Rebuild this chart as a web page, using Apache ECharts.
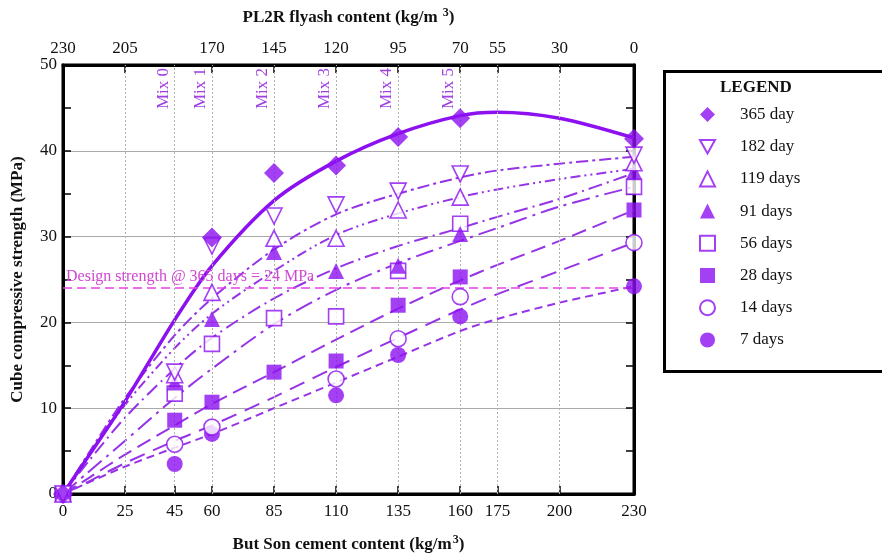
<!DOCTYPE html>
<html>
<head>
<meta charset="utf-8">
<script src="https://cdn.jsdelivr.net/npm/echarts@6/dist/echarts.min.js"></script>
<style>
  html, body { margin: 0; padding: 0; background: #fff; }
  #main { width: 882px; height: 559px; }
</style>
</head>
<body>
<div id="main"></div>
<script>
// measured points (cement content vs strength)
var xMix = [0, 45, 60, 85, 110, 135, 160, 230];
var d365 = [0, null, 29.9, 37.4, 38.3, 41.6, 43.8, 41.4];
var d182 = [0, 14.2, 28.9, 32.4, 33.7, 35.3, 37.3, 39.5];
var d119 = [0, 13.9, 23.5, 29.8, 29.8, 33.1, 34.6, 38.6];
var d91 = [0, 13.0, 20.4, 28.2, 26.0, 26.6, 30.3, 37.6];
var d56 = [0, 11.7, 17.5, 20.5, 20.7, 26.0, 31.5, 35.8];
var d28 = [0, 8.6, 10.7, 14.2, 15.5, 22.0, 25.3, 33.1];
var d14 = [0, 5.8, 7.8, null, 13.4, 18.1, 23.0, 29.3];
var d7 = [0, 3.5, 7.0, null, 11.5, 16.2, 20.7, 24.2];

// fitted curves
var xFit = [0, 10, 25, 45, 60, 85, 110, 135, 160, 175, 200, 230];
var fit365 = [0, 4.3, 10.8, 20.3, 26.6, 34.2, 38.8, 42.0, 44.1, 44.5, 43.8, 41.5];
var fit182 = [0, 4.6, 11.2, 18.5, 22.8, 28.5, 32.6, 35.0, 36.9, 37.7, 38.5, 39.3];
var fit119 = [0, 4.4, 10.4, 17.0, 21.0, 26.0, 30.2, 32.7, 34.6, 35.5, 36.7, 37.9];
var fit91 = [0, 3.7, 8.9, 14.6, 18.2, 22.8, 26.3, 28.9, 31.0, 32.3, 34.4, 37.4];
var fit56 = [0, 2.5, 6.2, 11.2, 14.6, 19.8, 23.8, 26.9, 29.5, 31.0, 33.5, 35.8];
var fit28 = [0, 1.8, 4.6, 8.0, 10.5, 14.2, 18.0, 21.6, 24.9, 26.7, 29.5, 33.1];
var fit14 = [0, 1.4, 3.6, 6.2, 8.0, 11.3, 14.8, 18.2, 21.5, 23.3, 26.0, 29.3];
var fit7 = [0, 1.3, 3.2, 5.4, 7.0, 10.0, 13.0, 16.0, 19.0, 20.4, 22.3, 24.2];

var bottomTicks = [0, 25, 45, 60, 85, 110, 135, 160, 175, 200, 230];
var topTicks = [230, 205, 170, 145, 120, 95, 70, 55, 30, 0];
var gridX = [25, 45, 60, 85, 110, 135, 160, 175, 200];
var mixX = [45, 60, 85, 110, 135, 160];
var mixNames = ['Mix 0', 'Mix 1', 'Mix 2', 'Mix 3', 'Mix 4', 'Mix 5'];
var designStrength = 24;

var PURPLE = '#8c10f0';
var LINEP = '#9633e6';
var FONT = 'Liberation Serif';

function pairs(xs, ys){
	var out = [];
	for(var i=0;i<xs.length;i++){
		if(ys[i] !== null) out.push([xs[i], ys[i]]);
	}
	return out;
}

function fitSeries(name, ys, type, width){
	return {
		name: name, type: 'line', data: pairs(xFit, ys), smooth: 0.3,
		symbol: 'none', silent: true, z: 2,
		lineStyle: { color: name === 'f365' ? PURPLE : LINEP, width: width, type: type }
	};
}

function pointSeries(name, ys, symbol, size, hollow){
	return {
		name: name, type: 'scatter', data: pairs(xMix, ys), symbol: symbol, symbolSize: size, z: 5,
		itemStyle: hollow ? { color: '#fff', borderColor: PURPLE, borderWidth: 1.6 } : { color: PURPLE }
	};
}

var INVTRI = 'path://M0,0L10,0L5,9Z';

var gridLines = [];
for(var i=0;i<gridX.length;i++){
	var k = mixX.indexOf(gridX[i]);
	gridLines.push({
		xAxis: gridX[i],
		lineStyle: { color: '#b0b0b0', type: [2, 2], width: 1 },
		label: k >= 0 ? {
			show: true, position: 'insideEndTop', formatter: mixNames[k], distance: 3,
			color: '#a040e0', fontFamily: FONT, fontSize: 17
		} : { show: false }
	});
}
gridLines.push({
	yAxis: designStrength,
	lineStyle: { color: '#e640e6', type: [9, 5], width: 1.5 },
	label: {
		show: true, position: 'insideStartTop', distance: 3,
		formatter: 'Design strength @ 365 days = 24 MPa',
		color: '#d246d2', fontFamily: FONT, fontSize: 16
	}
});

var axisLabelStyle = { color: '#111', fontFamily: FONT, fontSize: 17 };
var nameStyle = {
	color: '#111', fontFamily: FONT, fontSize: 17, fontWeight: 'bold',
	rich: {
		b: { fontFamily: FONT, fontSize: 17, fontWeight: 'bold', color: '#111' },
		s: { fontFamily: FONT, fontSize: 12, fontWeight: 'bold', color: '#111', padding: [0, 0, 9, 1] }
	}
};

var option = {
	backgroundColor: '#fff',
	animation: false,
	grid: { left: 63, top: 65, width: 571, height: 429, show: true, borderColor: '#000', borderWidth: 3, backgroundColor: 'transparent' },
	xAxis: [{
		type: 'value', position: 'bottom', min: 0, max: 230,
		name: '{b|But Son cement content (kg/m}{s|3}{b|)}', nameLocation: 'middle', nameGap: 40,
		nameTextStyle: nameStyle,
		axisLine: { show: true, onZero: false, lineStyle: { color: '#000', width: 3 } },
		axisTick: { inside: true, length: 8, customValues: bottomTicks, lineStyle: { color: '#000', width: 1.5 } },
		axisLabel: Object.assign({ customValues: bottomTicks, margin: 9, showMinLabel: true, showMaxLabel: true }, axisLabelStyle),
		splitLine: { show: false }
	}, {
		type: 'value', position: 'top', min: 0, max: 230, inverse: true,
		name: '{b|PL2R flyash content (kg/m }{s|3}{b|)}', nameLocation: 'middle', nameGap: 37,
		nameTextStyle: nameStyle,
		axisLine: { show: true, onZero: false, lineStyle: { color: '#000', width: 3 } },
		axisTick: { inside: true, length: 8, customValues: topTicks, lineStyle: { color: '#000', width: 1.5 } },
		axisLabel: Object.assign({ customValues: topTicks, margin: 8, showMinLabel: true, showMaxLabel: true }, axisLabelStyle),
		splitLine: { show: false }
	}],
	yAxis: [{
		type: 'value', position: 'left', min: 0, max: 50, interval: 10,
		name: 'Cube compressive strength (MPa)', nameLocation: 'middle', nameGap: 37,
		nameTextStyle: { color: '#111', fontFamily: FONT, fontSize: 17, fontWeight: 'bold' },
		axisLine: { show: true, onZero: false, lineStyle: { color: '#000', width: 3 } },
		axisTick: { inside: true, length: 8, lineStyle: { color: '#000', width: 1.5 } },
		minorTick: { show: true, splitNumber: 2, length: 8, lineStyle: { color: '#000', width: 1.5 } },
		axisLabel: Object.assign({ margin: 6 }, axisLabelStyle),
		splitLine: { show: true, lineStyle: { color: '#aaa', width: 1 } }
	}, {
		type: 'value', position: 'right', min: 0, max: 50, interval: 10,
		axisLine: { show: true, onZero: false, lineStyle: { color: '#000', width: 3 } },
		axisTick: { inside: true, length: 8, lineStyle: { color: '#000', width: 1.5 } },
		minorTick: { show: true, splitNumber: 2, length: 8, lineStyle: { color: '#000', width: 1.5 } },
		axisLabel: { show: false },
		splitLine: { show: false }
	}],
	legend: {
		orient: 'vertical', left: 694, top: 101, itemGap: 15.2,
		itemWidth: 15, itemHeight: 15,
		data: ['365 day', '182 day', '119 days', '91 days', '56 days', '28 days', '14 days', '7 days'],
		textStyle: { color: '#111', fontFamily: FONT, fontSize: 17, padding: [0, 0, 0, 20] },
		selectedMode: false
	},
	graphic: [{
		type: 'rect', left: 663, top: 70, z: -1,
		shape: { width: 240, height: 300 },
		style: { fill: '#fff', stroke: '#000', lineWidth: 3 }
	}, {
		type: 'text', left: 720, top: 79,
		style: { text: 'LEGEND', fill: '#111', font: 'bold 17px "Liberation Serif"' }
	}],
	series: [
		{
			name: 'grid', type: 'line', data: [], silent: true, z: 1,
			markLine: { silent: true, symbol: 'none', animation: false, data: gridLines }
		},
		fitSeries('f7', fit7, [8, 5], 2),
		fitSeries('f14', fit14, [16, 9], 2),
		fitSeries('f28', fit28, [15, 7], 2),
		fitSeries('f56', fit56, [18, 6, 3, 6], 2),
		fitSeries('f91', fit91, [14, 5, 2, 5], 2),
		fitSeries('f119', fit119, [10, 4, 2, 4, 2, 4], 2),
		fitSeries('f182', fit182, [12, 4, 3, 4], 2),
		fitSeries('f365', fit365, 'solid', 3.5),
		pointSeries('7 days', d7, 'circle', 16, false),
		pointSeries('14 days', d14, 'circle', 16, true),
		pointSeries('28 days', d28, 'rect', 15, false),
		pointSeries('56 days', d56, 'rect', 15, true),
		pointSeries('91 days', d91, 'triangle', 16, false),
		pointSeries('119 days', d119, 'triangle', 16, true),
		pointSeries('182 day', d182, INVTRI, 16, true),
		pointSeries('365 day', d365, 'diamond', 20, false)
	]
};

var chart = echarts.init(document.getElementById('main'));
chart.setOption(option);
</script>
</body>
</html>
